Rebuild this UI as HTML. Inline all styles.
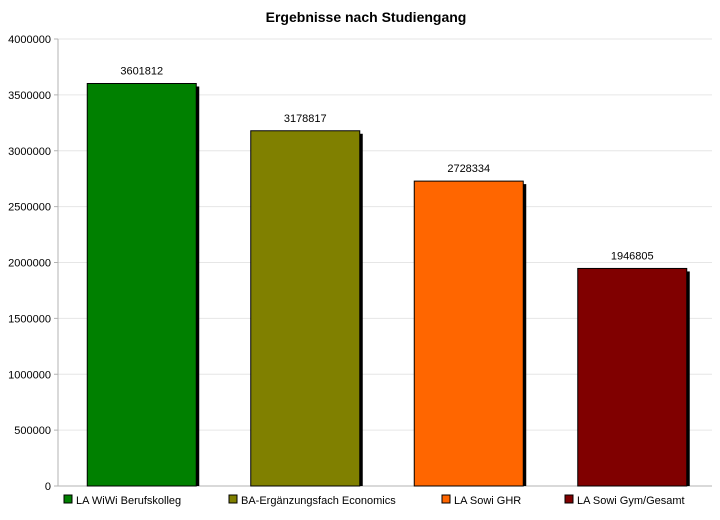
<!DOCTYPE html>
<html><head><meta charset="utf-8"><style>
body{margin:0;background:#fff;}
svg text{font-family:"Liberation Sans",sans-serif;}
</style></head><body>
<svg id="c" width="720" height="515" xmlns="http://www.w3.org/2000/svg">
<text x="366" y="22" text-anchor="middle" font-size="14" font-weight="bold">Ergebnisse nach Studiengang</text>
</svg>
<script>
const categories=["LA WiWi Berufskolleg","BA-Ergänzungsfach Economics","LA Sowi GHR","LA Sowi Gym/Gesamt"];
const values=[3601812,3178817,2728334,1946805];
const colors=["#008000","#808000","#ff6600","#800000"];
const ticks=[0,500000,1000000,1500000,2000000,2500000,3000000,3500000,4000000];
const svg=document.getElementById('c');
const NS="http://www.w3.org/2000/svg";
const x0=58,x1=712,yTop=39,yBot=486,max=4000000;
const y=v=>yBot-(v/max)*(yBot-yTop);
function mk(t,a){const e=document.createElementNS(NS,t);for(const k in a)e.setAttribute(k,a[k]);svg.appendChild(e);return e;}
ticks.forEach(t=>{
 const g=mk('line',{x1:x0,x2:x1,y1:y(t),y2:y(t),stroke:t===0?'#b3b3b3':'#e6e6e6','stroke-width':1});
 
 
 mk('line',{x1:x0-4,x2:x0,y1:y(t),y2:y(t),stroke:'#b3b3b3'});
 const l=mk('text',{x:x0-7,y:y(t)+4,'text-anchor':'end','font-size':11});
 l.textContent=t;
 
 
});
const ax=mk('line',{x1:x0,x2:x0,y1:yTop,y2:yBot,stroke:'#b3b3b3'});


const slot=(x1-x0)/categories.length, bw=109;
values.forEach((v,i)=>{
 const bx=x0+slot*i+(slot-bw)/2+2;
 mk('rect',{x:bx+3,y:y(v)+3,width:bw,height:yBot-y(v)-3,fill:'#000'});
 const r=mk('rect',{x:bx,y:y(v),width:bw,height:yBot-y(v),fill:colors[i],stroke:'#000','stroke-width':1});
 
 
 const t=mk('text',{x:bx+bw/2,y:y(v)-9,'text-anchor':'middle','font-size':11});
 t.textContent=v;
 
 
});
const lx=[64,229,442,565];
categories.forEach((c,i)=>{
 const s=mk('rect',{x:lx[i],y:495,width:8,height:8,fill:colors[i],stroke:'#000','stroke-width':1});
 
 
 const t=mk('text',{x:lx[i]+12,y:504,'font-size':11});
 t.textContent=c;
 
 
});
</script>
</body></html>
